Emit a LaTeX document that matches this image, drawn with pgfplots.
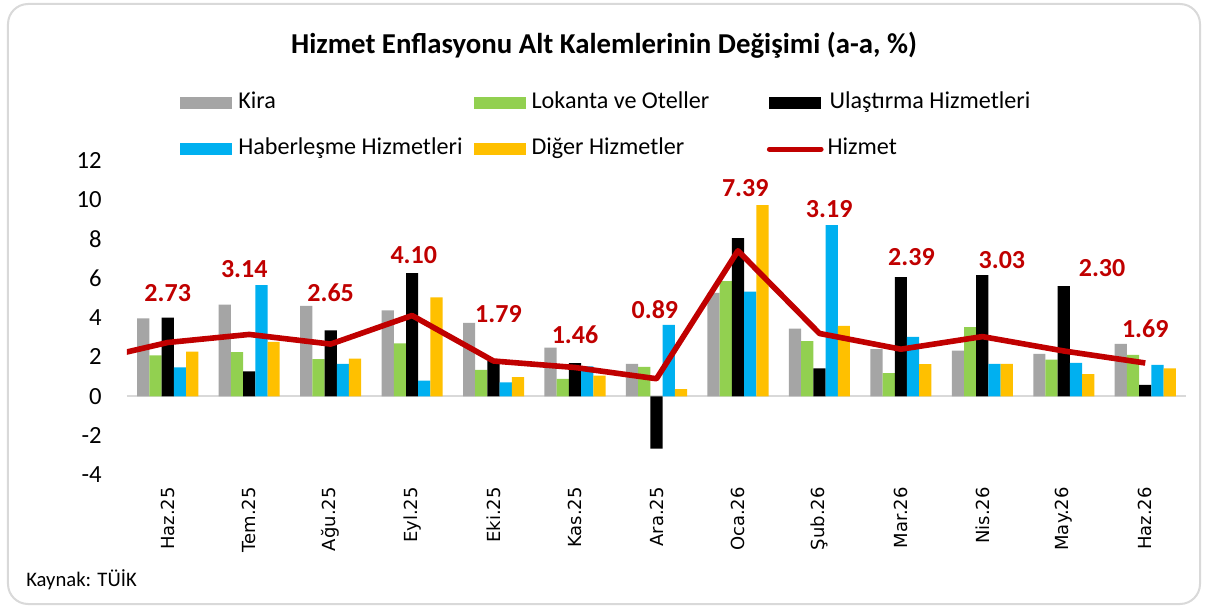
\documentclass[border=0pt]{standalone}
\usepackage{fontspec}
\setmainfont{Carlito}
\newfontfamily\dejavu{DejaVu Sans}
\usepackage{pgfplots}
\pgfplotsset{compat=1.18}
\definecolor{cKira}{HTML}{A5A5A5}
\definecolor{cLok}{HTML}{92D050}
\definecolor{cUla}{HTML}{000000}
\definecolor{cHab}{HTML}{00B0F0}
\definecolor{cDig}{HTML}{FFC000}
\definecolor{cHiz}{HTML}{C00000}
\definecolor{cFrame}{HTML}{D9D9D9}
\pgfplotsset{barleg/.style={legend image code/.code={\fill[##1] (0pt,-4.5pt) rectangle (39pt,4.5pt);}},
  lineleg/.style={legend image code/.code={\draw[##1, line cap=round, line width=3.5pt] (0pt,0pt) -- (39pt,0pt);}}}
\begin{document}
\begin{tikzpicture}
\begin{scope}[x=0.75pt,y=-0.75pt,shift={(-95.25pt,356.25pt)}]
\useasboundingbox (0,0) rectangle (1208,608);
\draw[cFrame, line width=1.5pt, rounded corners=15pt, fill=white] (8,4) rectangle (1200,604);
\node[font=\bfseries\fontsize{21.6}{24}\selectfont] at (604,45) {Hizmet Enflasyonu Alt Kalemlerinin Değişimi (a-a, \%)};
\node[anchor=west, inner sep=0pt, font=\fontsize{15.5}{18}\selectfont] at (26,580) {Kaynak: TÜİK};
\end{scope}
\begin{axis}[
  scale only axis, width=794.25pt, height=236.25pt,
  xmin=-0.5, xmax=12.5, ymin=-4, ymax=12,
  axis line style={draw=none},
  tick style={draw=none},
  xtick={0,...,12},
  xticklabels={Haz.25,Tem.25,Ağu.25,Eyl.25,Eki.25,Kas.25,Ara.25,Oca.26,Şub.26,Mar.26,Nis.26,May.26,Haz.26},
  ytick={-4,-2,...,12},
  /pgf/number format/assume math mode=true,
  yticklabel style={font=\fontsize{18.5}{20}\selectfont, anchor=east, inner sep=0pt},
  yticklabel shift=18.75pt,
  xticklabel style={font=\dejavu\fontsize{13.5}{15}\selectfont, rotate=90, anchor=east, inner sep=0pt},
  xticklabel shift=9pt,
  extra y ticks={0}, extra y tick labels={},
  extra y tick style={grid=major, major grid style={draw=cFrame, line width=1.8pt}},
  legend columns=3,
  legend cell align=left,
  legend style={at={(0.05005,1.215)}, anchor=north west, draw=none, fill=none, inner sep=0pt,
    column sep=0pt, row sep=18.5pt, font=\fontsize{18.1}{20}\selectfont,
    nodes={inner sep=0pt, text height=12pt, text depth=4pt}, cells={anchor=west}},
]
\addplot[ybar, bar width=0.15, bar shift=-0.3, fill=cKira, draw=none, barleg] coordinates {
(0,3.95) (1,4.66) (2,4.59) (3,4.36) (4,3.73) (5,2.47) (6,1.64) (7,5.25) (8,3.44) (9,2.39) (10,2.32) (11,2.15) (12,2.66)};
\addlegendentry{\makebox[181pt][l]{\hspace{4.5pt}Kira}}
\addplot[ybar, bar width=0.15, bar shift=-0.15, fill=cLok, draw=none, barleg] coordinates {
(0,2.08) (1,2.24) (2,1.88) (3,2.68) (4,1.34) (5,0.88) (6,1.49) (7,5.85) (8,2.80) (9,1.17) (10,3.51) (11,1.86) (12,2.10)};
\addlegendentry{\makebox[181pt][l]{\hspace{4.5pt}Lokanta ve Oteller}}
\addplot[ybar, bar width=0.15, bar shift=0, fill=cUla, draw=none, barleg] coordinates {
(0,4.00) (1,1.27) (2,3.34) (3,6.25) (4,1.80) (5,1.68) (6,-2.66) (7,8.03) (8,1.42) (9,6.05) (10,6.15) (11,5.59) (12,0.58)};
\addlegendentry{\makebox[181pt][l]{\hspace{4.5pt}Ulaştırma Hizmetleri}}
\addplot[ybar, bar width=0.15, bar shift=0.15, fill=cHab, draw=none, barleg] coordinates {
(0,1.47) (1,5.64) (2,1.64) (3,0.80) (4,0.70) (5,1.52) (6,3.63) (7,5.32) (8,8.69) (9,3.02) (10,1.64) (11,1.69) (12,1.59)};
\addlegendentry{\makebox[181pt][l]{\hspace{4.5pt}Haberleşme Hizmetleri}}
\addplot[ybar, bar width=0.15, bar shift=0.3, fill=cDig, draw=none, barleg] coordinates {
(0,2.27) (1,2.76) (2,1.91) (3,5.02) (4,0.97) (5,1.05) (6,0.36) (7,9.71) (8,3.58) (9,1.63) (10,1.64) (11,1.13) (12,1.41)};
\addlegendentry{\makebox[181pt][l]{\hspace{4.5pt}Diğer Hizmetler}}
\addplot[sharp plot, color=cHiz, line width=4.2pt, line join=round, mark=none, lineleg] coordinates {
(-1,1.77) (0,2.73) (1,3.14) (2,2.65) (3,4.10) (4,1.79) (5,1.46) (6,0.89) (7,7.39) (8,3.19) (9,2.39) (10,3.03) (11,2.30) (12,1.69)};
\addlegendentry{\makebox[80pt][l]{\hspace{3pt}Hizmet}}
\addplot[draw=none, mark=none, forget plot, nodes near coords, point meta=explicit symbolic,
  every node near coord/.append style={anchor=center, inner sep=0pt, font=\bfseries\fontsize{19.5}{20}\selectfont, text=cHiz}] coordinates {
(0,5.26) [2.73] (0.94,6.46) [3.14] (2,5.26) [2.65] (3.02,7.16) [4.10] (4.06,4.16) [1.79] (5,3.14) [1.46]
(5.98,4.38) [0.89] (7.09,10.59) [7.39] (8.12,9.49) [3.19] (9.13,7.08) [2.39] (10.24,6.92) [3.03] (11.47,6.50) [2.30] (12,3.41) [1.69]};
\end{axis}
\end{tikzpicture}
\end{document}
